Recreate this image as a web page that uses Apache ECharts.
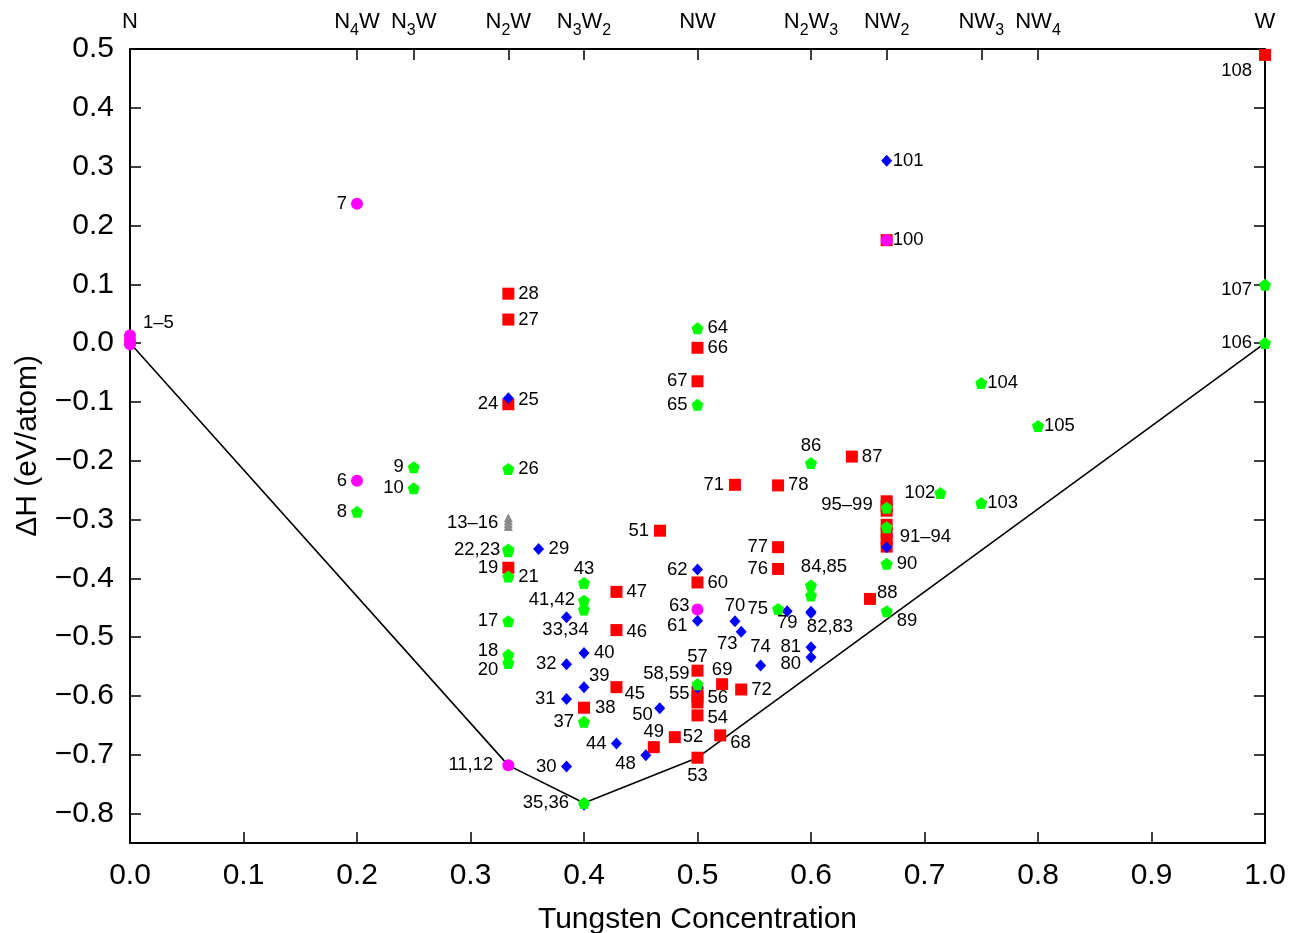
<html>
<head>
    <meta http-equiv="content-type" content="text/html; charset=utf-8">
    <title>N-W formation enthalpy</title>
    <script src="https://cdn.jsdelivr.net/npm/echarts@6/dist/echarts.min.js"></script>
    <style>
        body { margin: 0; background: #fff; }
        #chart { width: 1294px; height: 933px; }
    </style>
</head>
<body>
    <div id="chart"></div>
    <script type="text/javascript">
        // formation enthalpy (eV/atom) vs tungsten concentration, one array per marker type
        var redSquares = [[1, 0.49], [1/3, 0.084], [1/3, 0.040], [1/3, -0.104], [1/3, -0.382],
            [2/3, 0.175], [0.5, -0.008], [0.5, -0.065], [0.636, -0.193], [0.533, -0.241], [0.571, -0.242],
            [2/3, -0.269], [2/3, -0.277], [2/3, -0.285], [2/3, -0.309], [2/3, -0.322], [2/3, -0.334], [2/3, -0.346],
            [0.467, -0.319], [0.571, -0.347], [0.571, -0.384], [0.5, -0.407], [0.4286, -0.423], [0.652, -0.435],
            [0.4286, -0.488], [0.5, -0.557], [0.5217, -0.580], [0.4286, -0.585], [0.5385, -0.589],
            [0.5, -0.593], [0.5, -0.602], [0.5, -0.611], [0.4, -0.620], [0.5, -0.633], [0.52, -0.667],
            [0.48, -0.670], [0.4615, -0.687], [0.5, -0.705]];
        var blueDiamonds = [[2/3, 0.310], [1/3, -0.094], [2/3, -0.347], [0.36, -0.350], [0.5, -0.385],
            [0.579, -0.456], [0.6, -0.457], [0.6, -0.459], [0.3846, -0.466], [0.5, -0.472], [0.533, -0.473],
            [0.5385, -0.491], [0.6, -0.517], [0.4, -0.527], [0.6, -0.534], [0.3846, -0.546], [0.5556, -0.548],
            [0.4, -0.585], [0.5, -0.586], [0.3846, -0.605], [0.4667, -0.621], [0.4286, -0.681],
            [0.4545, -0.701], [0.3846, -0.720], [0.4, -0.785]];
        var greenPentagons = [[1, 0.099], [1, 0.0], [0.5, 0.025], [0.75, -0.068], [0.5, -0.105], [0.8, -0.141],
            [0.6, -0.204], [0.25, -0.211], [1/3, -0.214], [0.25, -0.247], [0.714, -0.255], [0.75, -0.272],
            [2/3, -0.280], [0.2, -0.287], [2/3, -0.313], [1/3, -0.351], [1/3, -0.354], [2/3, -0.375],
            [1/3, -0.397], [0.4, -0.408], [0.6, -0.412], [0.6, -0.429], [0.4, -0.438], [0.4, -0.453],
            [0.571, -0.452], [2/3, -0.456], [1/3, -0.473], [1/3, -0.530], [1/3, -0.544], [0.5, -0.580],
            [0.4, -0.644], [0.4, -0.782]];
        var magentaCircles = [[0, 0.013], [0, 0.005], [0, -0.002], [0.2, 0.237], [2/3, 0.175],
            [0.2, -0.234], [0.5, -0.453], [1/3, -0.718]];
        var grayTriangles = [[1/3, -0.297], [1/3, -0.302], [1/3, -0.307], [1/3, -0.312]];
        var convexHull = [[0, 0], [1/3, -0.718], [0.4, -0.782], [0.5, -0.705], [1, 0]];

        // structure numbers and the point each one belongs to
        var pointLabels = [
            ['1–5', 0, 0.013], ['7', 0.2, 0.237], ['6', 0.2, -0.234], ['8', 0.2, -0.287],
            ['9', 0.25, -0.211], ['10', 0.25, -0.247],
            ['28', 1/3, 0.084], ['27', 1/3, 0.040], ['25', 1/3, -0.094], ['24', 1/3, -0.104], ['26', 1/3, -0.214],
            ['13–16', 1/3, -0.305], ['22,23', 1/3, -0.352], ['19', 1/3, -0.382], ['21', 1/3, -0.397],
            ['17', 1/3, -0.473], ['18', 1/3, -0.530], ['20', 1/3, -0.544], ['11,12', 1/3, -0.718],
            ['29', 0.36, -0.350], ['33,34', 0.3846, -0.466], ['32', 0.3846, -0.546], ['31', 0.3846, -0.605],
            ['30', 0.3846, -0.720],
            ['43', 0.4, -0.408], ['41,42', 0.4, -0.438], ['40', 0.4, -0.527], ['39', 0.4, -0.585],
            ['38', 0.4, -0.620], ['37', 0.4, -0.644], ['35,36', 0.4, -0.782],
            ['47', 0.4286, -0.423], ['46', 0.4286, -0.488], ['45', 0.4286, -0.585], ['44', 0.4286, -0.681],
            ['48', 0.4545, -0.701], ['49', 0.4615, -0.687], ['50', 0.4667, -0.621], ['51', 0.467, -0.319],
            ['52', 0.48, -0.670],
            ['53', 0.5, -0.705], ['54', 0.5, -0.633], ['55', 0.5, -0.596], ['56', 0.5, -0.604], ['57', 0.5, -0.557],
            ['58,59', 0.5, -0.580], ['60', 0.5, -0.407], ['61', 0.5, -0.472], ['62', 0.5, -0.385],
            ['63', 0.5, -0.453], ['64', 0.5, 0.025], ['66', 0.5, -0.008], ['67', 0.5, -0.065], ['65', 0.5, -0.105],
            ['69', 0.5217, -0.580], ['68', 0.52, -0.667], ['70', 0.533, -0.473], ['73', 0.5385, -0.491],
            ['72', 0.5385, -0.589], ['74', 0.5556, -0.548], ['71', 0.533, -0.241],
            ['78', 0.571, -0.242], ['77', 0.571, -0.347], ['76', 0.571, -0.384], ['75', 0.571, -0.452],
            ['79', 0.579, -0.456],
            ['82,83', 0.6, -0.457], ['81', 0.6, -0.517], ['80', 0.6, -0.534], ['84,85', 0.6, -0.412], ['86', 0.6, -0.204],
            ['87', 0.636, -0.193], ['88', 0.652, -0.435], ['89', 2/3, -0.456], ['90', 2/3, -0.375],
            ['91–94', 2/3, -0.330], ['95–99', 2/3, -0.275], ['100', 2/3, 0.175], ['101', 2/3, 0.310],
            ['102', 0.714, -0.255], ['103', 0.75, -0.272], ['104', 0.75, -0.068], ['105', 0.8, -0.141],
            ['106', 1, 0], ['107', 1, 0.099], ['108', 1, 0.49]
        ];

        var compoundX = [0, 0.2, 0.25, 1/3, 0.4, 0.5, 0.6, 2/3, 0.75, 0.8, 1];
        var compoundNames = ['N', 'N{s|4}W', 'N{s|3}W', 'N{s|2}W', 'N{s|3}W{s|2}', 'NW',
            'N{s|2}W{s|3}', 'NW{s|2}', 'NW{s|3}', 'NW{s|4}', 'W'];
        var xTicks = [0, 0.1, 0.2, 0.3, 0.4, 0.5, 0.6, 0.7, 0.8, 0.9, 1.0];
        var yTicks = [-0.8, -0.7, -0.6, -0.5, -0.4, -0.3, -0.2, -0.1, 0.0, 0.1, 0.2, 0.3, 0.4, 0.5];

        // which side of the point each number sits on, plus a small nudge in px
        var labelSide = {
            '1–5': ['r', 3, -13], '25': ['r', 0, 2], '22,23': ['l', 2, 0], '18': ['l', 0, -4], '20': ['l', 0, 7],
            '11,12': ['l', -5, 0], '33,34': ['b', -1, -1], '31': ['l', -1, 0], '43': ['t', 0, 0], '41,42': ['l', 1, -1],
            '39': ['r', -5, -11], '38': ['r', 1, 0], '35,36': ['l', -5, 0], '46': ['r', 0, 2], '45': ['r', -2, 7],
            '48': ['l', 0, 9], '49': ['t', 0, -1], '50': ['l', 3, 7], '51': ['l', -1, 0], '52': ['r', -2, 0],
            '53': ['b', 0, 4], '54': ['r', 0, 3], '55': ['l', 2, 0], '57': ['t', 0, 0], '58,59': ['l', 2, -10],
            '61': ['l', 0, 5], '63': ['l', 2, -4], '69': ['t', 0, 0], '68': ['r', 0, 8], '70': ['t', 0, -1],
            '73': ['b', -14, -2], '74': ['t', 0, -4], '71': ['l', -1, 0], '79': ['b', 0, -2], '82,83': ['b', 19, 1],
            '80': ['l', 0, 7], '84,85': ['t', 13, -4], '86': ['t', 0, -3], '88': ['r', -3, -6], '89': ['r', 0, 10],
            '91–94': ['r', 3, 0], '95–99': ['l', -4, 0], '100': ['r', -4, 0], '101': ['r', -4, 0],
            '102': ['l', 5, 0], '103': ['r', -4, 0], '104': ['r', -4, 0], '105': ['r', -4, 0],
            '106': ['l', -3, 0], '107': ['l', -3, 5], '108': ['l', -3, 16],
            '28': ['r', 0, 0], '27': ['r', 0, 0], '26': ['r', 0, 0], '21': ['r', 0, 0], '29': ['r', 0, 0],
            '40': ['r', 0, 0], '47': ['r', 0, 0], '56': ['r', 0, 0], '60': ['r', 0, 0], '64': ['r', 0, 0],
            '66': ['r', 0, 0], '72': ['r', 0, 0], '78': ['r', 0, 0], '87': ['r', 0, 0], '90': ['r', 0, 0]
        };

        var FONT = "'Liberation Sans', Arial, Helvetica, sans-serif";
        var pentagon = 'path://M0,-1 L0.951,-0.309 L0.588,0.809 L-0.588,0.809 L-0.951,-0.309 Z';

        function fmtNum(v) {
            return (v < -1e-9 ? '\u2212' : '') + Math.abs(v).toFixed(1);
        }

        var labelData = pointLabels.map(function (p) {
            var s = labelSide[p[0]] || ['l', 0, 0];
            var base = { l: [-10, 0], r: [10, 0], t: [0, -14], b: [0, 14] }[s[0]];
            var align = s[0] === 'l' ? 'right' : (s[0] === 'r' ? 'left' : 'center');
            return {
                value: [p[1], p[2]],
                label: {
                    show: true,
                    formatter: p[0],
                    position: 'inside',
                    align: align,
                    verticalAlign: 'middle',
                    color: '#000',
                    opacity: 1,
                    textBorderWidth: 0,
                    fontSize: 18.5,
                    fontFamily: FONT,
                    offset: [base[0] + s[1], base[1] + s[2]]
                }
            };
        });

        function scatter(name, data, symbol, size, color, z) {
            return {
                name: name, type: 'scatter', data: data, symbol: symbol, symbolSize: size,
                itemStyle: { color: color, opacity: 1 }, clip: false, z: z, silent: true
            };
        }

        var chart = echarts.init(document.getElementById('chart'));
        var axisLine = { show: true, onZero: false, lineStyle: { color: '#000', width: 2 } };
        var option = {
            animation: false,
            backgroundColor: '#fff',
            textStyle: { fontFamily: FONT },
            grid: { left: 130, right: 29, top: 49, bottom: 90, containLabel: false, outerBoundsMode: 'none' },
            xAxis: [{
                type: 'value', position: 'bottom', min: 0, max: 1,
                axisLine: axisLine,
                axisTick: { show: true, inside: true, length: 11, customValues: xTicks, lineStyle: { color: '#000', width: 1.5 } },
                minorTick: { show: true, splitNumber: 2, length: 6, lineStyle: { color: '#000', width: 1.5 } },
                axisLabel: { customValues: xTicks, formatter: fmtNum, fontSize: 30, color: '#000', margin: 18, fontFamily: FONT },
                splitLine: { show: false },
                name: 'Tungsten Concentration', nameLocation: 'middle', nameGap: 62,
                nameTextStyle: { fontSize: 30, color: '#000', fontFamily: FONT }
            }, {
                type: 'value', position: 'top', min: 0, max: 1,
                axisLine: axisLine,
                axisTick: { show: true, inside: true, length: 11, customValues: compoundX.slice(1, -1), lineStyle: { color: '#000', width: 1.5 } },
                axisLabel: {
                    customValues: compoundX, margin: 16, color: '#000', fontFamily: FONT,
                    formatter: function (v) {
                        var i = compoundX.indexOf(v);
                        if (i < 0) {
                            for (var k = 0; k < compoundX.length; k++) {
                                if (Math.abs(compoundX[k] - v) < 1e-6) i = k;
                            }
                        }
                        return i < 0 ? '' : compoundNames[i].replace(/(^|\})([^{}]+?)(?=\{|$)/g, '$1{n|$2}');
                    },
                    rich: {
                        n: { fontSize: 22, lineHeight: 22, padding: [0, 0, 6, 0], verticalAlign: 'top', color: '#000', fontFamily: FONT },
                        s: { fontSize: 16, lineHeight: 16, padding: [12, 0, 0, 0], verticalAlign: 'top', color: '#000', fontFamily: FONT }
                    }
                },
                splitLine: { show: false }
            }],
            yAxis: [{
                type: 'value', position: 'left', min: -0.85, max: 0.5,
                axisLine: axisLine,
                axisTick: { show: true, inside: true, length: 11, customValues: yTicks, lineStyle: { color: '#000', width: 1.5 } },
                axisLabel: { customValues: yTicks, formatter: fmtNum, fontSize: 30, color: '#000', margin: 16, fontFamily: FONT },
                splitLine: { show: false },
                name: 'ΔH (eV/atom)', nameLocation: 'middle', nameGap: 87, nameRotate: 90,
                nameTextStyle: { fontSize: 30, color: '#000', fontFamily: FONT }
            }, {
                type: 'value', position: 'right', min: -0.85, max: 0.5,
                axisLine: axisLine,
                axisTick: { show: true, inside: true, length: 11, customValues: yTicks, lineStyle: { color: '#000', width: 1.5 } },
                axisLabel: { show: false },
                splitLine: { show: false }
            }],
            series: [
                {
                    name: 'hull', type: 'line', data: convexHull, symbol: 'none', silent: true, z: 1,
                    lineStyle: { color: '#000', width: 1.6 }
                },
                scatter('red', redSquares, 'rect', 12, '#ff0000', 2),
                scatter('blue', blueDiamonds, 'diamond', [11, 12], '#0000ff', 3),
                scatter('green', greenPentagons, pentagon, 12, '#00ff00', 4),
                scatter('magenta', magentaCircles, 'circle', 12, '#ff00ff', 5),
                scatter('gray', grayTriangles, 'triangle', 9, '#8c8c8c', 5),
                {
                    name: 'labels', type: 'scatter', data: labelData, symbolSize: 0.5, clip: false, silent: true, z: 6,
                    itemStyle: { color: '#000', opacity: 1 },
                    label: { show: true, fontSize: 18.5, color: '#000', opacity: 1, fontFamily: FONT }
                }
            ]
        };
        chart.setOption(option);
    </script>
</body>
</html>
